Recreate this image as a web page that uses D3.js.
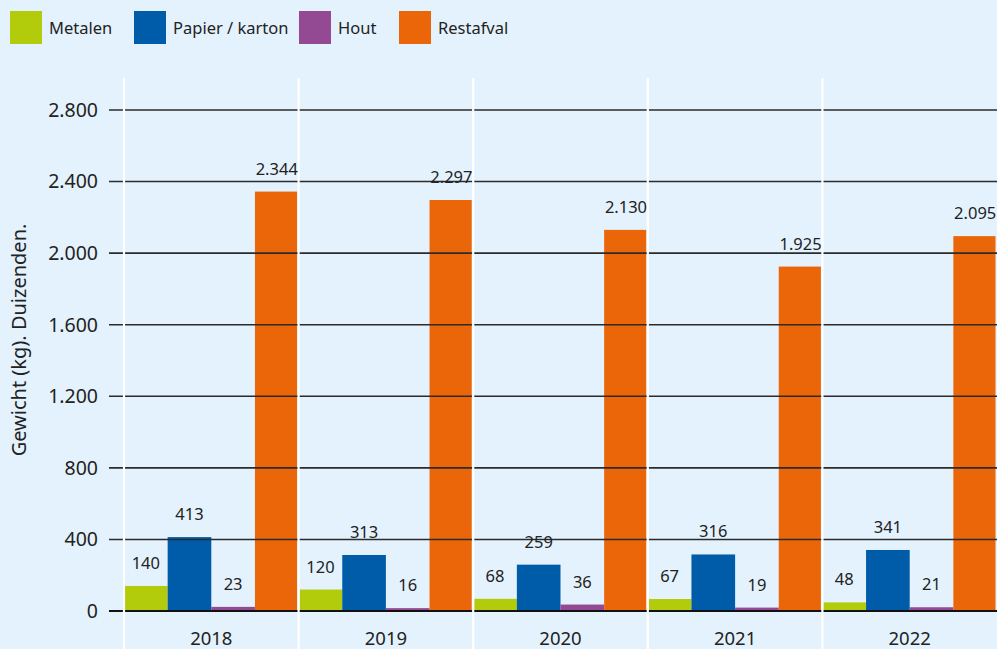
<!DOCTYPE html>
<html><head><meta charset="utf-8">
<script src="https://cdn.jsdelivr.net/npm/d3@7"></script>
<style>
html,body{margin:0;padding:0;background:#e4f2fd;}
svg{display:block;font-family:"Noto Sans","Open Sans",sans-serif;}
</style></head>
<body>
<svg id="chart" width="997" height="649"></svg>
<script>
const years = ["2018","2019","2020","2021","2022"];
const seriesNames = ["Metalen","Papier / karton","Hout","Restafval"];
const metalen = [140,120,68,67,48];
const papier = [413,313,259,316,341];
const hout = [23,16,36,19,21];
const restafval = [2344,2297,2130,1925,2095];
const yTicks = [0,400,800,1200,1600,2000,2400,2800];
const colors = ["#b2cb0b","#005ca8","#934a92","#eb6608"];
const yTitle = "Gewicht (kg). Duizenden.";

const allSeries = [metalen,papier,hout,restafval];
const fmt = v => d3.format(",")(v).replace(/,/g,".");

const svg = d3.select("#chart");
const W = 997, H = 649;
svg.append("rect").attr("width",W).attr("height",H).attr("fill","#e4f2fd");

const x0 = d3.scaleBand().domain(years).range([124, 124 + 5*174.6]).padding(0);
const x1 = d3.scaleBand().domain(seriesNames).range([0, x0.bandwidth()]).padding(0);
const y = d3.scaleLinear().domain([0,2800]).range([611,110]);

// bars
years.forEach((yr,i)=>{
  const g = svg.append("g").attr("transform",`translate(${x0(yr)},0)`);
  seriesNames.forEach((s,j)=>{
    const v = allSeries[j][i];
    g.append("rect")
      .attr("x", x1(s)+ (j===0?1:0))
      .attr("width", x1.bandwidth() - (j===0?1:0) - (j===3?1.5:0))
      .attr("y", y(v))
      .attr("height", y(0)-y(v))
      .attr("fill", colors[j]);
  });
});

// gridlines
svg.append("g").selectAll("line").data(yTicks).join("line")
  .attr("x1",109).attr("x2",W)
  .attr("y1",d=>y(d)).attr("y2",d=>y(d))
  .attr("stroke",d=>d===0?"#111":"#2b2b2b")
  .attr("stroke-width",d=>d===0?2:1.6);

// separators
svg.append("g").selectAll("line").data(years).join("line")
  .attr("x1",d=>x0(d)).attr("x2",d=>x0(d))
  .attr("y1",78).attr("y2",H)
  .attr("stroke","#ffffff").attr("stroke-width",2.2);

// y tick labels
svg.append("g").selectAll("text").data(yTicks).join("text")
  .attr("x",98).attr("y",d=>y(d)).attr("dy","0.35em")
  .attr("text-anchor","end").attr("font-size",19.5).attr("fill","#222")
  .text(d=>fmt(d));

// category labels
svg.append("g").selectAll("text").data(years).join("text")
  .attr("x",d=>x0(d)+x0.bandwidth()/2).attr("y",645)
  .attr("text-anchor","middle").attr("font-size",18.5).attr("fill","#222")
  .text(d=>d);

// value labels
years.forEach((yr,i)=>{
  seriesNames.forEach((s,j)=>{
    const v = allSeries[j][i];
    svg.append("text")
      .attr("x", x0(yr)+x1(s)+x1.bandwidth()/2)
      .attr("y", y(v)-17)
      .attr("text-anchor","middle").attr("font-size",16.5).attr("fill","#222")
      .text(fmt(v));
  });
});

// y axis title
svg.append("text")
  .attr("transform","translate(26,340) rotate(-90)")
  .attr("text-anchor","middle").attr("font-size",20).attr("fill","#222")
  .text(yTitle);

// legend
const legX = [10,134,299,399];
const leg = svg.append("g");
seriesNames.forEach((s,j)=>{
  leg.append("rect").attr("x",legX[j]).attr("y",11).attr("width",32).attr("height",33).attr("fill",colors[j]);
  leg.append("text").attr("x",legX[j]+39).attr("y",28).attr("dy","0.35em")
    .attr("font-size",16.5).attr("fill","#222").text(s);
});
</script>
</body></html>
